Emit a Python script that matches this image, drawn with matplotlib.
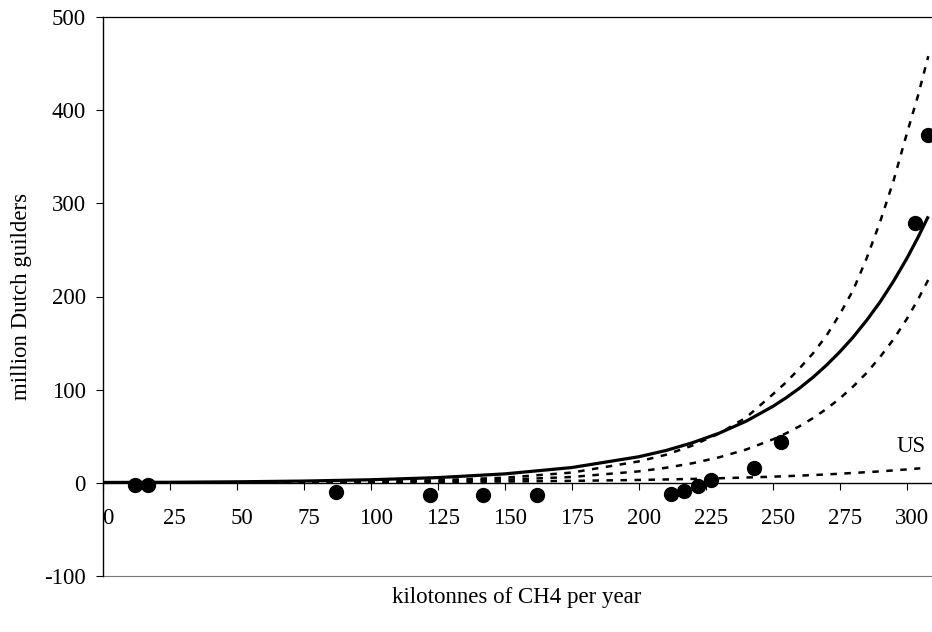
import matplotlib
matplotlib.use("Agg")
import matplotlib.pyplot as plt
from matplotlib.transforms import ScaledTranslation

plt.rcParams['font.family'] = ['Liberation Serif', 'DejaVu Serif']
plt.rcParams['axes.unicode_minus'] = False

# observed abatement cost points (kt CH4/yr, million NLG)
obs_x = [12, 17, 87, 122, 142, 162, 212, 217, 222, 227, 243, 253, 303, 308]
obs_y = [-2, -2, -10, -13, -13, -13, -12, -9, -3, 3, 16, 44, 279, 373]

curve_x = [0, 25, 50, 75, 100, 125, 150, 175, 200, 210, 220, 230, 240, 250,
           255, 260, 265, 270, 275, 280, 285, 290, 295, 300, 304, 308]
fit_y = [0.4, 0.6, 1.1, 1.9, 3.3, 5.6, 9.6, 16.4, 28, 34.6, 43, 53.3, 66.1,
         82, 91.4, 101.7, 113.3, 126.2, 140.6, 156.5, 174.4, 194.1, 216.3,
         240.9, 262.6, 286]
upper_y = [0.1, 0.2, 0.35, 0.7, 1.4, 2.8, 5.5, 11, 23, 30, 40, 53, 70, 95,
           108, 123, 139, 158, 181, 207, 241, 280, 324, 375, 414, 458]
lower_y = [0.06, 0.12, 0.23, 0.44, 0.86, 1.7, 3.3, 6.3, 12.3, 16.1, 21, 27.4,
           35.7, 46.6, 53.2, 60.8, 69.5, 79.3, 90.6, 103.5, 118, 135, 154,
           176, 196, 218]

# US curve stops a little earlier
us_x = [0, 25, 50, 75, 100, 125, 150, 175, 200, 210, 220, 230, 240, 250,
        260, 270, 280, 290, 300, 305]
us_y = [0.14, 0.2, 0.3, 0.44, 0.65, 0.96, 1.4, 2.1, 3.1, 3.6, 4.2, 4.9, 5.7,
        6.6, 7.7, 9.0, 10.6, 12.3, 14.4, 15.6]

x_ticks = list(range(0, 301, 25))
y_ticks = list(range(-100, 501, 100))

fig = plt.figure(figsize=(9.32, 6.32), dpi=100)
ax = fig.add_axes([102.5 / 932, 1 - 576 / 632, (931 - 102.5) / 932, 559 / 632])

dash = (0, (2.6, 3.0))
ax.plot(curve_x, upper_y, color='black', lw=1.8, linestyle=dash)
ax.plot(curve_x, lower_y, color='black', lw=1.8, linestyle=dash)
ax.plot(us_x, us_y, color='black', lw=1.8, linestyle=dash)
ax.plot(curve_x, fit_y, color='black', lw=2.3, solid_capstyle='butt')
ax.plot(obs_x, obs_y, 'o', color='black', markersize=10, zorder=5)

ax.text(307, 39, 'US', fontsize=16.5, ha='right', va='center')

ax.set_xlim(0, 309)
ax.set_ylim(-100, 500)

ax.spines['bottom'].set_position(('data', 0))
ax.spines['bottom'].set_linewidth(1.0)
ax.spines['left'].set_linewidth(1.0)
ax.spines['top'].set_linewidth(0.9)
ax.spines['right'].set_visible(False)
ax.axhline(-100, color='#777777', lw=0.8, clip_on=False)

ax.set_xticks(x_ticks)
ax.set_yticks(y_ticks)
ax.tick_params(axis='both', direction='out', length=5, width=0.8,
               labelsize=16.5, colors='black')
ax.tick_params(axis='x', pad=13)
ax.tick_params(axis='y', pad=7)

# tick labels sit a little right of their ticks in the original
shift = ScaledTranslation(5 / 100, 0, fig.dpi_scale_trans)
for tick in ax.xaxis.get_major_ticks():
    tick.label1.set_transform(tick.label1.get_transform() + shift)

ax.set_xlabel('kilotonnes of CH4 per year', fontsize=16.5)
ax.xaxis.set_label_coords(0.5, -0.02)
ax.set_ylabel('million Dutch guilders', fontsize=16.5)
ax.yaxis.set_label_coords(-0.085, 0.5)

fig.savefig('out.png', dpi=100)
